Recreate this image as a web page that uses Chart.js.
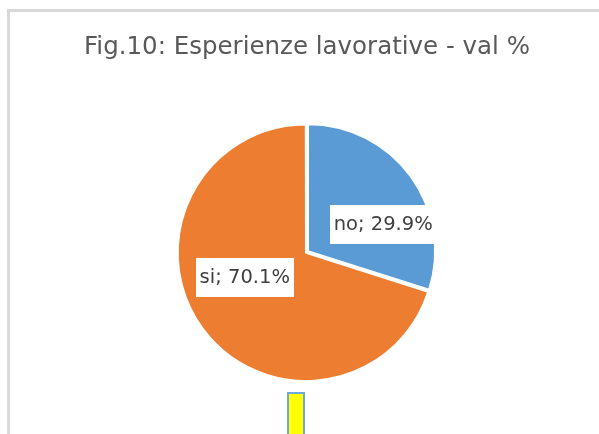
<!DOCTYPE html>
<html>
<head>
<meta charset="utf-8">
<script src="https://cdn.jsdelivr.net/npm/chart.js@4"></script>
<style>
  html, body { margin: 0; padding: 0; background: #fff; }
  body { width: 599px; height: 434px; overflow: hidden; position: relative; }
  #box {
    position: absolute; left: 7px; top: 9px;
    border-top: 3px solid #d9d9d9; border-left: 3px solid #d9d9d9;
    width: 594px; height: 451px;
  }
</style>
</head>
<body>
<div id="box"><canvas id="c" width="594" height="451"></canvas></div>
<script>
// Esperienze lavorative - valori %
const titolo = "Fig.10: Esperienze lavorative - val %";
const categorie = ["no", "si"];
const valori = [29.9, 70.1];
const colori = ["#5b9bd5", "#ed7d31"];

// etichette "categoria; valore%" con riquadro bianco
const etichette = {
  id: "etichette",
  afterDatasetsDraw(chart, args, opts) {
    const { ctx } = chart;
    const meta = chart.getDatasetMeta(0);
    ctx.save();
    ctx.font = "19.5px 'DejaVu Sans'";
    ctx.textAlign = "center";
    ctx.textBaseline = "middle";
    meta.data.forEach((arc, i) => {
      const r = arc.outerRadius;
      const [fx, fy] = opts.anchors[i];
      const x = arc.x + fx * r;
      const y = arc.y + fy * r;
      const text = `${categorie[i]}; ${valori[i].toFixed(1)}%`;
      const w = ctx.measureText(text).width + 8;
      const h = 39;
      ctx.fillStyle = "#ffffff";
      ctx.fillRect(Math.round(x - w / 2), Math.round(y - h / 2), Math.round(w), h);
      ctx.fillStyle = "#404040";
      ctx.fillText(text, x, y + 1);
    });
    ctx.restore();
  },
};

new Chart(document.getElementById("c"), {
  type: "pie",
  data: {
    labels: categorie,
    datasets: [
      {
        data: valori,
        backgroundColor: colori,
        borderColor: "#ffffff",
        borderWidth: 2,
        offset: 5,
      },
    ],
  },
  options: {
    responsive: false,
    animation: false,
    radius: 127,
    plugins: {
      title: {
        display: true,
        text: titolo,
        color: "#595959",
        font: { family: "'DejaVu Sans'", size: 24.5, weight: "normal", lineHeight: 1.2 },
        padding: { top: 21, bottom: 58.6 },
      },
      legend: {
        position: "bottom",
        labels: {
          boxWidth: 16,
          boxHeight: 60,
          padding: 10,
          font: { size: 44 },
          generateLabels: () => [
            { text: "", fillStyle: "#ffff00", strokeStyle: "#6fa8dc", lineWidth: 2, hidden: false, index: 0 },
          ],
        },
      },
      tooltip: { enabled: false },
      etichette: { anchors: [[0.6, -0.22], [-0.49, 0.2]] },
    },
  },
  plugins: [etichette],
});
</script>
</body>
</html>
